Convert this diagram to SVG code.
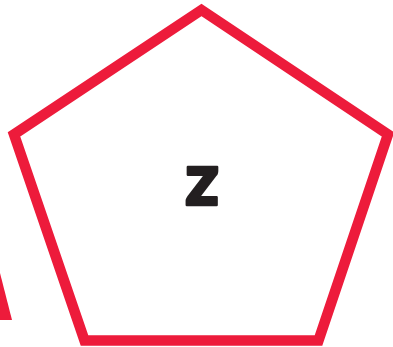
<svg xmlns="http://www.w3.org/2000/svg" width="393" height="347" viewBox="0 0 393 347">
  <style>
    .shape { fill: none; stroke: #ED1B3B; stroke-width: 10.5; stroke-linejoin: miter; stroke-miterlimit: 10; }
    .frag { fill: #ED1B3B; stroke: none; }
    .label { font-family: "Lato", "Inter", "DejaVu Sans", sans-serif; font-weight: 900; font-size: 74px; fill: #231F20; stroke: #231F20; stroke-width: 2.5; stroke-linejoin: round; text-anchor: middle; }
  </style>
  <rect width="393" height="347" fill="#FFFFFF"/>
  <g id="connectors"></g>
  <g id="fragment">
    <polygon class="frag" points="0,273 12,320 0,320"/>
  </g>
  <g id="node-z">
    <polygon class="shape" points="201.5,10 388,134.5 318.5,340.5 84.5,340.5 14,134.5"/>
    <text class="label" x="202" y="205">z</text>
  </g>
</svg>
